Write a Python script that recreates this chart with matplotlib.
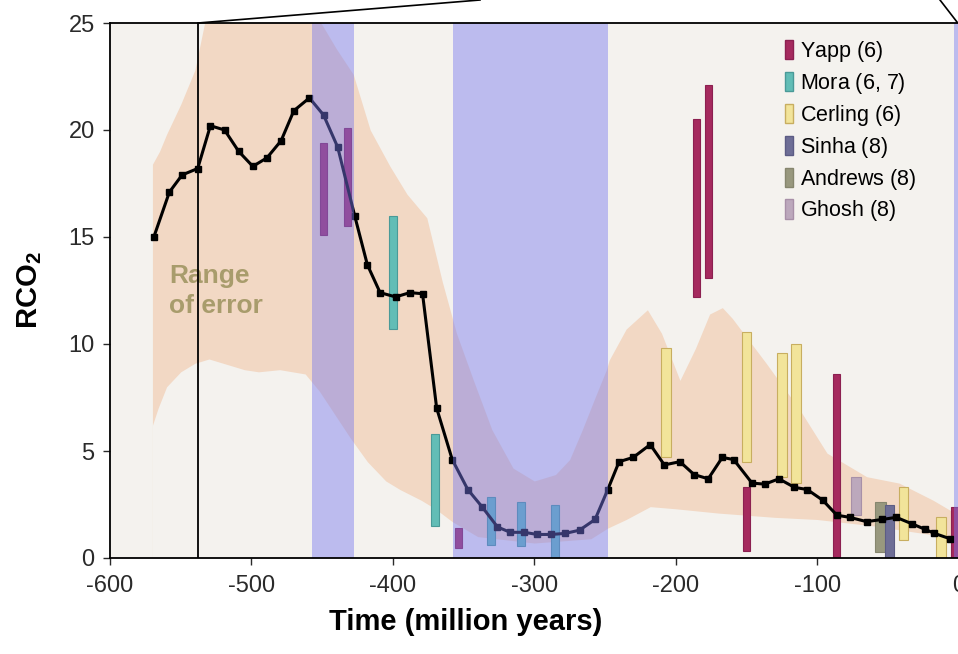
import matplotlib
matplotlib.use("Agg")
from matplotlib import pyplot as plt
from matplotlib.patches import Patch
from matplotlib.lines import Line2D

plt.rcParams["font.family"] = ["Liberation Sans", "DejaVu Sans"]
plt.rcParams["axes.unicode_minus"] = False
plt.rcParams["mathtext.fontset"] = "custom"
plt.rcParams["mathtext.rm"] = "Liberation Sans"
plt.rcParams["mathtext.it"] = "Liberation Sans:italic"
plt.rcParams["mathtext.bf"] = "Liberation Sans:bold"

# model curve (RCO2 vs time, Myr)
time = [-569, -558, -549, -538, -529, -519, -509, -499, -489, -479, -470, -459,
        -449, -439, -427, -418, -409, -398, -388, -379, -369, -358, -347, -337,
        -326, -317, -307, -298, -288, -278, -268, -257, -248, -240, -230, -218,
        -208, -197, -187, -177, -167, -159, -146, -137, -127, -116, -107, -96,
        -86, -77, -65, -54, -44, -33, -24, -17, -6]
rco2 = [15.0, 17.1, 17.9, 18.2, 20.2, 20.0, 19.0, 18.3, 18.7, 19.5, 20.9, 21.5,
        20.7, 19.2, 16.0, 13.7, 12.4, 12.2, 12.4, 12.35, 7.0, 4.6, 3.2, 2.4,
        1.45, 1.2, 1.2, 1.1, 1.1, 1.15, 1.3, 1.8, 3.2, 4.5, 4.7, 5.3,
        4.35, 4.5, 3.9, 3.7, 4.7, 4.6, 3.5, 3.45, 3.7, 3.3, 3.2, 2.7,
        2.0, 1.9, 1.7, 1.8, 1.9, 1.6, 1.35, 1.15, 0.9]

# range of error
err_hi_t = [-570, -565, -560, -550, -540, -530, -500, -460, -449, -440, -428, -416,
            -402, -390, -376, -365, -355, -343, -330, -315, -300, -285, -275, -266,
            -257, -249, -247, -235, -220, -210, -197, -186, -176, -167, -160, -136,
            -112, -93, -65, -42, -18, 0]
err_hi = [18.4, 19.0, 19.8, 21.2, 22.8, 26, 26, 26, 24.8, 23.8, 22.6, 20.0,
          18.3, 17.0, 15.9, 12.9, 10.5, 8.3, 6.0, 4.2, 3.6, 3.9, 4.6, 6.0,
          7.5, 8.8, 9.25, 10.7, 11.6, 10.5, 8.3, 9.8, 11.4, 11.7, 11.2, 9.1,
          6.9, 4.9, 3.8, 3.5, 2.7, 2.0]
err_lo_t = [-570, -566, -560, -550, -540, -530, -520, -505, -495, -480, -462, -452,
            -440, -430, -418, -405, -395, -380, -370, -358, -340, -300, -260, -248,
            -235, -218, -200, -170, -130, -100, -60, -30, 0]
err_lo = [6.2, 7.0, 8.0, 8.7, 9.1, 9.3, 9.1, 8.8, 8.7, 8.8, 8.6, 7.8,
          6.6, 5.6, 4.5, 3.6, 3.2, 2.7, 2.3, 1.7, 1.0, 0.7, 0.9, 1.4,
          1.8, 2.4, 2.3, 2.1, 1.9, 1.8, 1.5, 1.2, 0.9]

# glacial intervals
glacial_start = [-457, -357.5, -3.5]
glacial_end = [-427.5, -248, 0]

# proxy estimates
yapp_x = [-449, -432, -353.5, -185, -177, -150, -86, -2.5]
yapp_lo = [15.1, 15.5, 0.47, 12.2, 13.1, 0.35, 0.05, 0.0]
yapp_hi = [19.4, 20.1, 1.4, 20.5, 22.1, 3.3, 8.6, 2.4]
mora_x = [-400, -370, -330.7, -309.5, -285.5]
mora_lo = [10.7, 1.5, 0.6, 0.56, 0.0]
mora_hi = [16.0, 5.8, 2.85, 2.6, 2.5]
cerling_x = [-207, -150, -125, -115, -39, -12.5]
cerling_lo = [4.7, 4.5, 3.8, 3.5, 0.85, 0.0]
cerling_hi = [9.8, 10.55, 9.6, 10.0, 3.3, 1.9]
andrews_x = [-55]
andrews_lo = [0.3]
andrews_hi = [2.6]
sinha_x = [-49]
sinha_lo = [0.0]
sinha_hi = [2.5]
ghosh_x = [-72.5]
ghosh_lo = [2.0]
ghosh_hi = [3.8]

W, H = 958, 654
fig = plt.figure(figsize=(W / 100, H / 100), dpi=100)
ax = fig.add_axes([110 / W, 1 - 558 / H, 848.5 / W, 535 / H])
ax.set_facecolor("#f4f2ee")

ax.fill_between(err_hi_t, [0] * len(err_hi_t), err_hi, color="#f2d8c4", lw=0, zorder=1)
ax.fill_between(err_lo_t, [0] * len(err_lo_t), err_lo, color="#f4f2ee", lw=0, zorder=1.1)

def proxy(xs, lo, hi, w, fc, ec):
    ax.bar(xs, [h - l for h, l in zip(hi, lo)], bottom=lo, width=w,
           color=fc, edgecolor=ec, linewidth=0.8, zorder=3)

proxy(yapp_x, yapp_lo, yapp_hi, 5.0, "#a52a5e", "#8c2050")
proxy(mora_x, mora_lo, mora_hi, 5.7, "#62bdb6", "#4a9a98")
proxy(cerling_x, cerling_lo, cerling_hi, 6.8, "#f2e49a", "#c8ae60")
proxy(ghosh_x, ghosh_lo, ghosh_hi, 7.5, "#bca8bc", "#a890a8")
proxy(andrews_x, andrews_lo, andrews_hi, 8.0, "#98987e", "#86866e")
proxy(sinha_x, sinha_lo, sinha_hi, 6.5, "#6e6e96", "#5c5c84")

ax.plot(time, rco2, color="black", lw=2.2, marker="s", ms=5, zorder=4)

for s, e in zip(glacial_start, glacial_end):
    ax.axvspan(s, e, color="#787aee", alpha=0.45, lw=0, zorder=5)

ax.axvline(-538, color="black", lw=1.3, zorder=6)

ax.text(-558.3, 12.85, "Range", fontsize=19, fontweight="bold", color="#a89c6c",
        va="baseline", ha="left", zorder=2)
ax.text(-558.3, 11.45, "of error", fontsize=19, fontweight="bold", color="#a89c6c",
        va="baseline", ha="left", zorder=2)

ax.set_xlim(-600, 0)
ax.set_ylim(0, 25)
ax.set_xticks([-600, -500, -400, -300, -200, -100, 0])
ax.set_yticks([0, 5, 10, 15, 20, 25])
ax.tick_params(direction="out", length=5, width=1, labelsize=17, colors="#2a2a2a")
ax.tick_params(axis="x", pad=7)
ax.tick_params(axis="y", pad=6)
ax.spines["right"].set_visible(False)
for side in ("left", "top", "bottom"):
    ax.spines[side].set_linewidth(1.3)
    ax.spines[side].set_zorder(7)

fig.text(466 / W, 1 - 622 / H, "Time (million years)", fontsize=21, fontweight="bold",
         ha="center", va="center")
fig.text(30 / W, 1 - 290 / H, r"$\mathbf{RCO_2}$", fontsize=21, rotation=90,
         ha="center", va="center")

# connector lines to the (cropped) inset above
fig.add_artist(Line2D([198 / W, 480 / W], [1 - 23 / H, 1.0], color="black", lw=1.2))
fig.add_artist(Line2D([957 / W, 940 / W], [1 - 22 / H, 1.0], color="black", lw=1.2))

handles = [
    Patch(facecolor="#a52a5e", edgecolor="#8c2050", label=r"Yapp ($\mathit{6}$)"),
    Patch(facecolor="#62bdb6", edgecolor="#4a9a98", label=r"Mora ($\mathit{6}$, $\mathit{7}$)"),
    Patch(facecolor="#f2e49a", edgecolor="#c8ae60", label=r"Cerling ($\mathit{6}$)"),
    Patch(facecolor="#6e6e96", edgecolor="#5c5c84", label=r"Sinha ($\mathit{8}$)"),
    Patch(facecolor="#98987e", edgecolor="#86866e", label=r"Andrews ($\mathit{8}$)"),
    Patch(facecolor="#bca8bc", edgecolor="#a890a8", label=r"Ghosh ($\mathit{8}$)"),
]
leg = ax.legend(handles=handles, loc="upper left", bbox_to_anchor=(785 / W, 1 - 39 / H),
                bbox_transform=fig.transFigure, frameon=False, fontsize=15.5,
                handlelength=0.35, handleheight=1.0, handletextpad=0.35,
                labelspacing=0.32, borderpad=0, borderaxespad=0)
leg.set_zorder(8)

fig.savefig("out.png", dpi=100)
